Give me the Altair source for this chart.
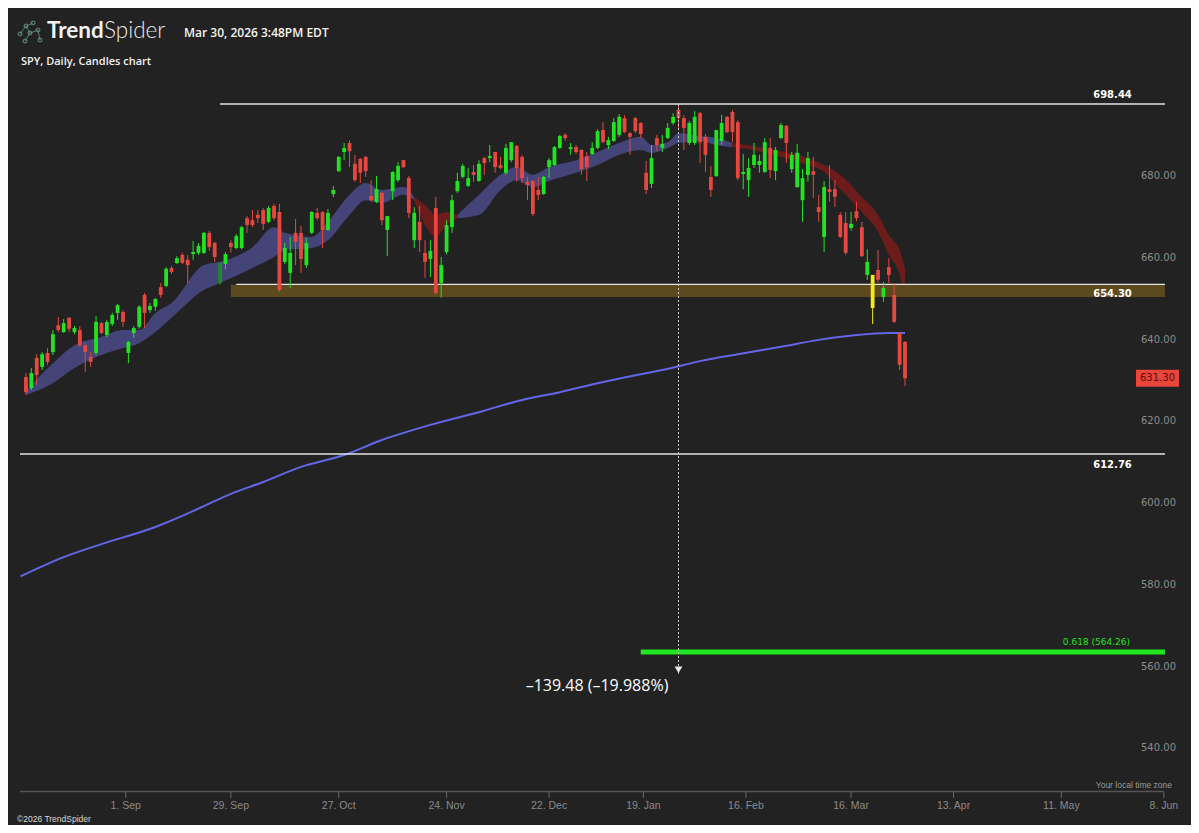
import altair as alt
import pandas as pd

# ---------------- candle data (trading-day index 0 = 5 Aug 2025 ... 163 = 30 Mar 2026)
OPEN = [631.6, 628.9, 636.3, 634.1, 637.5, 637.7, 644.3, 642.6, 646.1, 642.6,
        643.1, 639.4, 636.5, 637.5, 644.8, 641.9, 644.6, 647.3, 647.5, 637.5,
        642.4, 643.9, 651.7, 648.0, 648.8, 653.6, 653.9, 658.3, 659.5, 661.5,
        660.3, 661.7, 662.0, 662.0, 666.9, 664.4, 654.6, 659.3, 664.4, 663.2,
        663.2, 670.5, 670.0, 671.3, 672.5, 669.6, 673.5, 672.0, 659.8, 657.1,
        666.9, 666.9, 659.0, 666.9, 671.8, 672.0, 667.6, 676.4, 682.0, 686.7,
        688.9, 683.8, 685.0, 685.5, 675.9, 674.5, 676.7, 667.6, 677.1, 679.8,
        684.7, 680.3, 665.1, 669.6, 662.0, 660.5, 673.0, 654.6, 662.2, 668.3,
        677.1, 680.6, 678.4, 681.8, 679.6, 685.2, 685.2, 686.7, 683.5, 681.6,
        684.7, 688.2, 685.5, 679.4, 679.6, 677.4, 676.4, 683.0, 683.5, 687.7,
        690.9, 687.4, 687.9, 687.2, 685.7, 686.2, 687.7, 692.1, 688.4, 689.4,
        690.9, 695.0, 691.3, 695.0, 693.8, 681.6, 678.9, 690.1, 687.7, 690.1,
        693.8, 697.0, 695.0, 688.9, 688.9, 696.2, 690.4, 680.6, 680.8, 689.4,
        695.3, 696.5, 694.0, 681.3, 679.8, 683.5, 683.5, 681.8, 687.7, 682.0,
        690.1, 693.1, 682.5, 678.1, 674.9, 681.1, 682.0, 673.2, 665.9, 677.6,
        677.6, 671.3, 669.3, 668.1, 672.2, 668.3, 656.6, 656.6, 657.8, 651.2,
        658.5, 651.7, 642.4, 640.2]
HIGH = [632.6, 633.8, 637.2, 637.7, 638.7, 643.1, 646.3, 645.8, 646.3, 644.1,
        644.1, 639.9, 637.7, 646.5, 645.1, 645.6, 647.3, 649.5, 648.0, 640.4,
        644.1, 649.2, 652.2, 649.7, 651.0, 654.6, 658.5, 658.8, 661.2, 662.0,
        661.5, 664.9, 664.4, 667.1, 667.4, 664.7, 659.5, 662.2, 665.1, 666.6,
        668.6, 671.0, 672.5, 672.5, 673.0, 673.5, 674.0, 674.0, 664.4, 665.9,
        670.3, 668.6, 665.6, 672.2, 673.0, 672.2, 672.7, 678.4, 685.7, 688.9,
        689.6, 686.0, 685.2, 685.7, 679.8, 680.8, 676.9, 671.0, 682.0, 684.2,
        684.7, 680.8, 673.2, 673.5, 665.1, 665.1, 675.7, 661.0, 670.0, 676.2,
        681.6, 683.8, 682.8, 683.5, 684.7, 685.5, 688.4, 686.7, 685.5, 688.7,
        689.1, 688.4, 686.0, 680.6, 679.8, 680.6, 680.8, 685.2, 688.2, 690.9,
        691.3, 688.9, 688.4, 687.4, 686.7, 689.1, 692.3, 694.0, 690.4, 695.0,
        696.0, 695.7, 691.6, 695.3, 694.0, 684.5, 688.4, 690.9, 690.9, 693.8,
        696.2, 698.44, 695.7, 694.3, 696.7, 696.5, 691.1, 683.3, 692.1, 695.8,
        695.5, 697.0, 694.5, 686.2, 685.2, 688.9, 686.0, 690.1, 690.1, 687.9,
        693.8, 693.3, 686.7, 688.7, 682.5, 686.7, 685.5, 676.2, 679.6, 683.5,
        679.8, 672.0, 672.0, 672.0, 674.5, 669.6, 662.9, 656.6, 662.7, 654.9,
        660.7, 654.6, 642.6, 640.4]
LOW = [627.2, 628.4, 629.7, 633.3, 634.6, 637.0, 642.6, 642.4, 642.6, 642.1,
       639.0, 632.8, 634.1, 637.0, 642.1, 641.4, 644.1, 645.6, 643.9, 635.0,
       641.2, 643.4, 643.6, 647.3, 647.8, 651.0, 653.6, 656.8, 659.3, 659.3,
       654.6, 660.3, 661.5, 661.7, 662.5, 659.8, 654.1, 658.0, 662.0, 662.9,
       662.9, 666.9, 668.3, 669.3, 667.6, 669.3, 670.0, 652.4, 659.3, 653.4,
       659.0, 657.1, 658.3, 666.6, 670.0, 663.2, 667.4, 675.7, 681.8, 684.7,
       683.0, 679.4, 679.1, 680.6, 674.5, 674.2, 668.8, 661.2, 674.9, 679.4,
       682.8, 670.5, 663.2, 662.2, 655.8, 656.1, 651.7, 651.0, 661.7, 666.9,
       676.7, 680.3, 678.1, 679.4, 679.4, 681.1, 684.2, 681.6, 682.5, 681.1,
       684.2, 679.4, 679.1, 674.9, 671.0, 674.9, 676.2, 680.3, 683.3, 687.4,
       689.4, 686.0, 686.2, 681.1, 679.6, 686.0, 687.4, 688.9, 687.4, 689.1,
       690.4, 691.3, 686.0, 691.3, 690.1, 676.4, 677.9, 686.9, 686.7, 689.9,
       693.3, 692.6, 687.2, 688.4, 688.4, 684.0, 681.8, 675.7, 680.6, 688.4,
       691.3, 689.1, 679.8, 677.6, 675.7, 682.8, 681.6, 681.6, 680.3, 679.8,
       689.9, 684.0, 681.6, 677.9, 669.6, 679.4, 675.4, 669.6, 662.2, 674.5,
       673.2, 665.6, 661.5, 667.4, 669.8, 661.0, 655.4, 644.6, 654.6, 650.0,
       654.6, 644.8, 633.3, 629.4]
CLOSE = [627.9, 632.6, 632.1, 637.2, 635.3, 642.1, 643.1, 644.8, 643.4, 643.6,
         639.4, 637.7, 635.3, 645.1, 642.4, 645.1, 646.8, 649.2, 645.1, 640.2,
         643.6, 648.8, 647.3, 649.0, 650.7, 651.7, 658.1, 657.3, 660.7, 659.5,
         659.0, 662.2, 663.7, 666.9, 663.4, 661.0, 659.5, 661.7, 663.4, 666.1,
         668.3, 668.8, 668.8, 670.5, 669.1, 673.0, 670.5, 652.9, 663.2, 662.0,
         664.7, 660.5, 664.4, 672.0, 670.5, 667.6, 671.8, 677.4, 685.5, 687.7,
         686.9, 679.8, 681.6, 682.0, 674.9, 677.6, 670.0, 671.0, 681.8, 683.3,
         683.0, 671.8, 671.8, 665.1, 659.8, 662.5, 652.2, 659.0, 668.8, 674.9,
         679.6, 683.3, 680.3, 681.1, 683.8, 684.0, 685.7, 683.0, 682.8, 687.7,
         689.1, 682.8, 680.3, 678.6, 671.5, 676.2, 680.6, 684.7, 687.9, 690.6,
         690.1, 687.9, 686.7, 682.5, 683.0, 687.7, 691.8, 689.1, 689.6, 694.0,
         695.3, 691.6, 690.4, 691.8, 691.1, 677.4, 685.2, 688.4, 688.7, 692.6,
         695.3, 695.0, 692.6, 693.8, 695.3, 689.1, 686.0, 677.4, 692.1, 693.8,
         691.6, 691.6, 680.3, 681.8, 682.8, 686.0, 684.5, 689.1, 682.3, 687.2,
         693.3, 688.9, 686.0, 686.5, 680.3, 685.2, 681.1, 672.0, 678.1, 676.9,
         675.7, 665.9, 662.0, 669.1, 670.5, 661.2, 659.8, 648.5, 655.4, 653.4,
         656.6, 645.1, 634.6, 631.3]
SPECIAL_BARS = {36: "dim", 157: "mark"}

# ---------------- moving-average cloud (upper / lower edge, per trend segment)
RIB_IDX = [0, 5, 9, 14, 18, 21, 24, 27, 33, 36, 42, 46, 48, 53, 56, 60, 63, 66, 70, 72,
           72, 74, 76, 78, 80,
           80, 84, 88, 91, 94, 97, 102, 106, 110, 114, 116, 119, 121, 125, 128, 131,
           131, 136, 140, 145, 148, 151, 155, 158, 160, 162, 163]
RIB_UP = [628.2, 635.0, 639.4, 641.4, 643.1, 643.1, 647.3, 649.7, 659.0, 659.8, 663.4,
          668.3, 666.9, 665.9, 669.6, 676.2, 679.1, 677.4, 678.1, 675.7,
          675.7, 673.7, 671.3, 672.0, 671.3,
          671.3, 676.2, 681.1, 683.0, 681.1, 683.0, 684.7, 686.7, 688.9, 690.4, 688.4,
          689.1, 691.3, 690.6, 690.1, 688.9,
          688.9, 687.9, 686.9, 685.2, 683.5, 681.1, 675.7, 671.3, 666.4, 662.7, 658.3]
RIB_LO = [627.2, 630.1, 633.8, 637.0, 638.7, 639.9, 642.6, 646.1, 652.9, 654.6, 658.3,
          661.0, 662.7, 663.2, 665.1, 671.3, 674.9, 674.2, 676.2, 674.9,
          674.9, 668.8, 665.9, 668.8, 670.5,
          670.5, 671.3, 677.4, 679.8, 678.1, 679.6, 681.6, 683.5, 686.0, 687.2, 686.5,
          687.7, 688.9, 689.4, 688.4, 687.9,
          687.9, 686.9, 685.5, 683.5, 681.8, 677.6, 672.0, 667.1, 661.5, 656.6, 650.5]
RIB_SEG = [0] * 20 + [1] * 5 + [2] * 16 + [3] * 11
RIB_TREND = ["bull"] * 20 + ["bear"] * 5 + ["bull"] * 16 + ["bear"] * 11

# ---------------- 200-day moving average
SMA_IDX = [-1.0, 7, 14, 24, 29, 33, 38, 44, 51, 59, 66, 75, 84, 92, 99, 106, 114, 118,
           125, 132, 140, 147, 154, 160, 163]
SMA_VAL = [582.8, 587.5, 590.7, 594.9, 597.6, 600.0, 603.0, 605.9, 609.6, 612.5, 616.2,
           619.9, 623.0, 626.0, 627.9, 630.1, 632.3, 633.3, 635.5, 637.2, 639.0, 640.7,
           641.9, 642.4, 642.4]

# ---------------- drawn levels and annotations
LEVELS = [698.44, 654.30, 612.76]
LEVEL_START = [36, 39, -1.1]
LEVEL_END = 211.2
ZONE_HIGH, ZONE_LOW, ZONE_START = 654.2, 651.2, 38
FIB_VALUE, FIB_START, FIB_TEXT = 564.26, 114, "0.618 (564.26)"
MEASURE_IDX, MEASURE_FROM, MEASURE_TO = 121, 698.44, 558.96
MEASURE_TEXT = "\u2013139.48 (\u201319.988%)"
LAST_PRICE = 631.30

# x axis: trading-day positions of the date ticks
TICK_POS = [18.5, 38, 58, 78, 97, 114.5, 133.5, 153, 172, 192, 211]
TICK_LAB = ["1. Sep", "29. Sep", "27. Oct", "24. Nov", "22. Dec", "19. Jan",
            "16. Feb", "16. Mar", "13. Apr", "11. May", "8. Jun"]
Y_TICKS = [540, 560, 580, 600, 620, 640, 660, 680]
X_DOMAIN = [-1.1, 211.58]
Y_DOMAIN = [530.26, 704.81]

BG = "#222222"
GREEN = "#22e322"
RED = "#e6483f"

# ---------------- tables
n = len(OPEN)
kind = ["up" if c >= o else "down" for o, c in zip(OPEN, CLOSE)]
for i, k in SPECIAL_BARS.items():
    kind[i] = k
candles = pd.DataFrame({"idx": list(range(n)), "open": OPEN, "high": HIGH,
                        "low": LOW, "close": CLOSE, "kind": kind})
ribbon = pd.DataFrame({"idx": RIB_IDX, "up": RIB_UP, "lo": RIB_LO,
                       "seg": RIB_SEG, "trend": RIB_TREND})
sma = pd.DataFrame({"idx": SMA_IDX, "val": SMA_VAL})
levels = pd.DataFrame({"level": LEVELS, "start": LEVEL_START, "end": [LEVEL_END] * 3})
zone = pd.DataFrame({"lo": [ZONE_LOW], "hi": [ZONE_HIGH], "start": [ZONE_START], "end": [LEVEL_END]})
fib = pd.DataFrame({"v": [FIB_VALUE], "start": [FIB_START], "end": [LEVEL_END]})
measure = pd.DataFrame({"idx": [MEASURE_IDX], "a": [MEASURE_FROM], "b": [MEASURE_TO]})
xticks = pd.DataFrame({"pos": TICK_POS, "lab": TICK_LAB})
yticks = pd.DataFrame({"v": Y_TICKS, "lab": [f"{v:.2f}" for v in Y_TICKS]})
xline = pd.DataFrame({"a": [X_DOMAIN[0]], "b": [TICK_POS[-1]]})

xs = alt.Scale(domain=X_DOMAIN, nice=False, zero=False)
ys = alt.Scale(domain=Y_DOMAIN, nice=False, zero=False)


def X(f):
    return alt.X(f, scale=xs, axis=None)


def Y(f):
    return alt.Y(f, scale=ys, axis=None)


kind_color = alt.Color("kind:N", legend=None,
                       scale=alt.Scale(domain=["up", "down", "dim", "mark"],
                                       range=[GREEN, RED, "#1f8a28", "#f3ea1c"]))

rib_layers = []
for trend, col in (("bull", "#444479"), ("bear", "#6d1c1c")):
    rib_layers.append(
        alt.Chart(ribbon[ribbon["trend"] == trend]).mark_area(
            interpolate="monotone", color=col).encode(
            x=X("idx:Q"), y=Y("up:Q"), y2="lo:Q", detail="seg:N"))

zone_l = alt.Chart(zone).mark_rect(color="#5c4a1e").encode(
    x=X("start:Q"), x2="end:Q", y=Y("hi:Q"), y2="lo:Q")
sma_l = alt.Chart(sma).mark_line(color="#6565ea", strokeWidth=2, interpolate="monotone").encode(
    x=X("idx:Q"), y=Y("val:Q"))
lev_l = alt.Chart(levels).mark_rule(color="#e4e4e4", strokeWidth=1.3).encode(
    x=X("start:Q"), x2="end:Q", y=Y("level:Q"))
fib_l = alt.Chart(fib).mark_rule(color="#1fe61f", strokeWidth=5).encode(
    x=X("start:Q"), x2="end:Q", y=Y("v:Q"))
wicks = alt.Chart(candles).mark_rule(strokeWidth=1).encode(
    x=X("idx:Q"), y=Y("low:Q"), y2="high:Q", color=kind_color)
bodies = alt.Chart(candles).mark_bar(size=3.8).encode(
    x=X("idx:Q"), y=Y("open:Q"), y2="close:Q", color=kind_color)
meas_l = alt.Chart(measure).mark_rule(color="#cfcfcf", strokeWidth=1, strokeDash=[2, 2]).encode(
    x=X("idx:Q"), y=Y("a:Q"), y2="b:Q")
arrow = alt.Chart(measure).mark_point(shape="triangle-down", filled=True, size=60,
                                      color="#ececec", opacity=1, yOffset=-4).encode(
    x=X("idx:Q"), y=Y("b:Q"))

# axes drawn from the tick tables through the same scales
x_dom = alt.Chart(xline).mark_rule(color="#555555", strokeWidth=1.6).encode(
    x=X("a:Q"), x2="b:Q", y=alt.value(713.5))
x_tk = alt.Chart(xticks).mark_rule(color="#666666", strokeWidth=1).encode(
    x=X("pos:Q"), y=alt.value(714), y2=alt.value(720))
x_lb = alt.Chart(xticks).mark_text(color="#8a8a8a", fontSize=10.5, font="Liberation Sans",
                                   baseline="middle", align="center").encode(
    x=X("pos:Q"), y=alt.value(728), text="lab:N")
y_lb = alt.Chart(yticks).mark_text(color="#8c8c8c", fontSize=10, font="DejaVu Sans",
                                   baseline="alphabetic", align="right").encode(
    x=alt.value(1161), y=Y("v:Q"), text="lab:N")


def price_text(text, price, x, dy, size, color, weight="bold", align="center",
               font="DejaVu Sans"):
    df = pd.DataFrame({"t": [text], "p": [price]})
    return alt.Chart(df).mark_text(dy=dy, fontSize=size, color=color, fontWeight=weight,
                                   align=align, baseline="alphabetic", font=font).encode(
        text="t:N", x=alt.value(x), y=Y("p:Q"))


def px_text(text, x, y, size, color, weight="normal", align="left", font="Open Sans",
            baseline="alphabetic"):
    df = pd.DataFrame({"t": [text]})
    return alt.Chart(df).mark_text(fontSize=size, color=color, fontWeight=weight,
                                   align=align, baseline=baseline, font=font).encode(
        text="t:N", x=alt.value(x), y=alt.value(y))


lvl_texts = [
    price_text("698.44", LEVELS[0], 1097.5, -6, 10, "#ffffff"),
    price_text("654.30", LEVELS[1], 1097.5, 13, 10, "#ffffff"),
    price_text("612.76", LEVELS[2], 1097.5, 14, 10, "#ffffff"),
    price_text(FIB_TEXT, FIB_VALUE, 1115, -7, 9, "#22e322", weight="normal", align="right"),
]

price_box = alt.Chart(pd.DataFrame({"p": [LAST_PRICE]})).mark_point(
    shape="M-1,-0.395H1V0.395H-1Z", size=1849, filled=True, color="#e8453b", opacity=1).encode(
    x=alt.value(1142.5), y=Y("p:Q"))
price_lbl = alt.Chart(pd.DataFrame({"p": [LAST_PRICE], "t": [f"{LAST_PRICE:.2f}"]})).mark_text(
    fontSize=10, color="#5c0b0b", font="DejaVu Sans", baseline="middle", align="center").encode(
    text="t:N", x=alt.value(1142.5), y=Y("p:Q"))

# header / footer texts (pixel positions relative to plot origin)
header = [
    px_text("Trend", 32, -40, 22.5, "#f2f2f2", weight="bold", font="Lato"),
    px_text("Spider", 89, -40, 22.5, "#e8e8e8", weight=300, font="Lato"),
    px_text("Mar 30, 2026 3:48PM EDT", 169, -41, 12, "#f4f4f4", weight=600),
    px_text("SPY, Daily, Candles chart", 6, -13, 11, "#f0f0f0", weight=600),
    px_text(MEASURE_TEXT, 582, 613, 16, "#ffffff", align="center"),
    px_text("Your local time zone", 1157, 710, 8.5, "#9a9a9a", align="right",
            font="Liberation Sans"),
    px_text("\u00a92026 TrendSpider", 2, 744, 8.5, "#d8d8d8", font="Liberation Sans"),
]

# logo: small linked rings
LOGO_NODES = [(5, -44), (11, -52), (18, -55), (15, -45), (23, -48), (10, -37), (25, -38)]
LOGO_LINKS = [(0, 1), (1, 2), (1, 3), (3, 4), (3, 5), (4, 6)]
logo = []
for a, b in LOGO_LINKS:
    (x1, y1), (x2, y2) = LOGO_NODES[a], LOGO_NODES[b]
    logo.append(alt.Chart(pd.DataFrame({"k": [0]})).mark_rule(color="#4f7d70", strokeWidth=1).encode(
        x=alt.value(x1), x2=alt.value(x2), y=alt.value(y1), y2=alt.value(y2)))
for x0, y0 in LOGO_NODES:
    logo.append(alt.Chart(pd.DataFrame({"k": [0]})).mark_point(
        shape="circle", size=14, color="#6f9f92", strokeWidth=1.2, filled=False).encode(
        x=alt.value(x0), y=alt.value(y0)))

chart = alt.layer(
    *rib_layers, zone_l, sma_l, lev_l, fib_l, wicks, bodies, meas_l, arrow,
    x_dom, x_tk, x_lb, y_lb,
    *lvl_texts, price_box, price_lbl, *header, *logo,
).properties(
    width=1157, height=713,
    padding={"left": 7, "top": 70, "right": 19, "bottom": 34},
    autosize=alt.AutoSizeParams(type="none"),
    background=BG,
    usermeta={"embedOptions": {"defaultStyle":
              "html,body{background:#222222;overflow:hidden}"}},
).configure_view(stroke=None)

chart.save("out.html", embed_options={"renderer": "svg", "actions": False})
